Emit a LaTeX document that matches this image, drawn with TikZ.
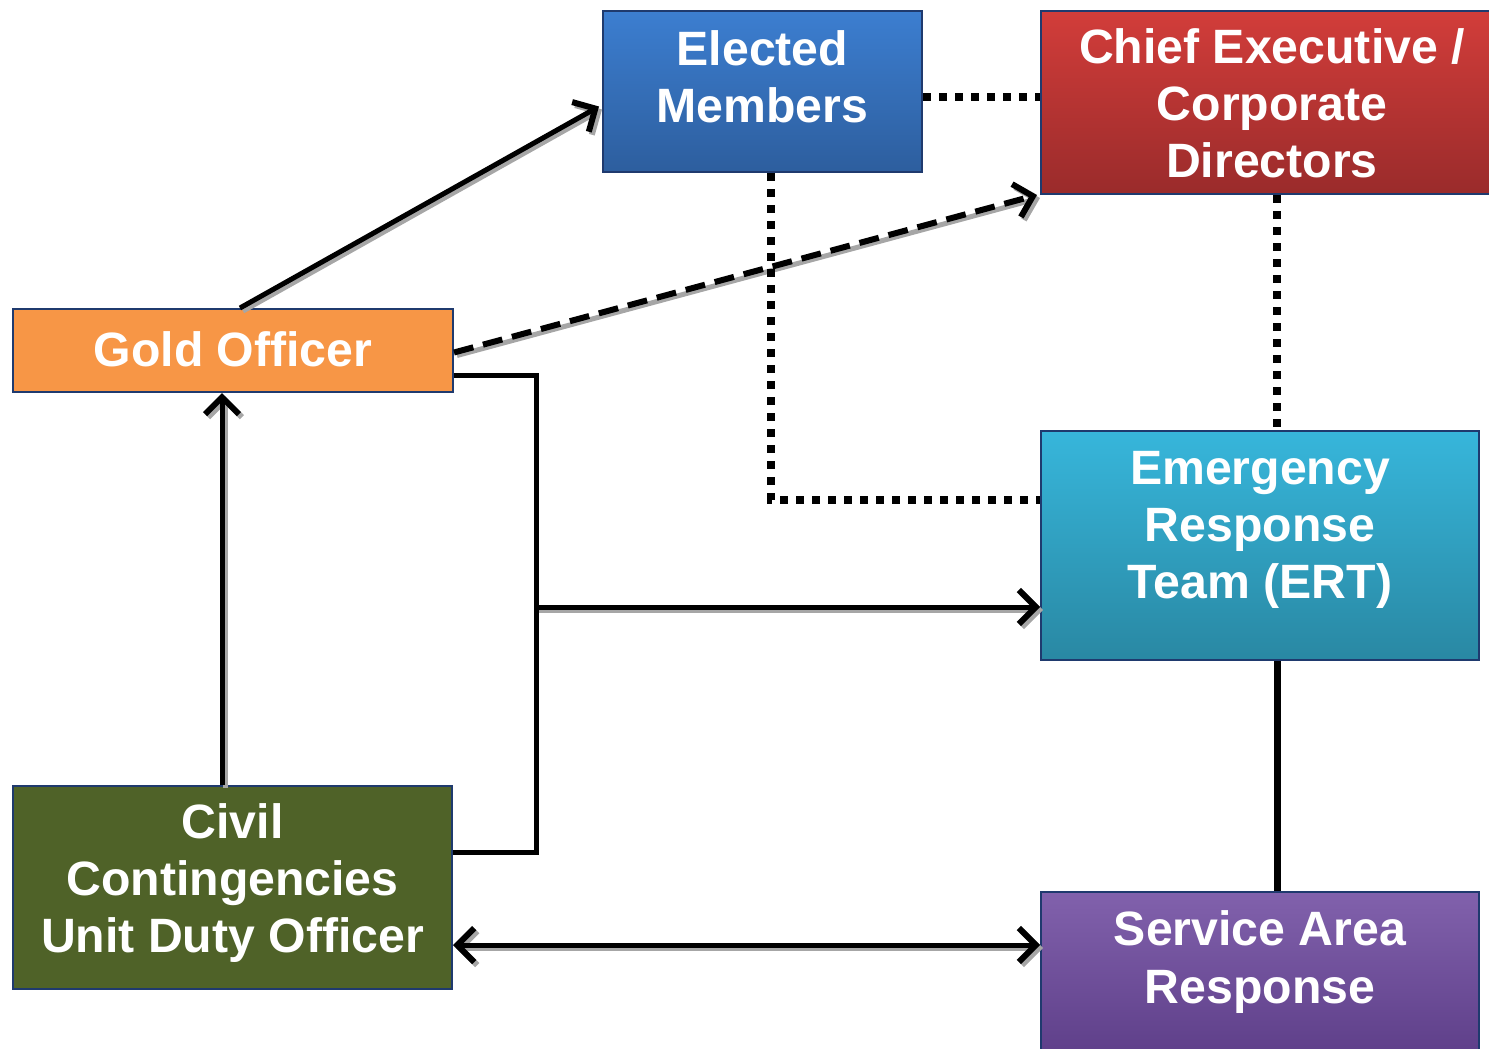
\documentclass[tikz,border=0pt]{standalone}
\usepackage{fontspec}
\setmainfont{Liberation Sans}
\usetikzlibrary{arrows.meta,calc}

\definecolor{boxedge}{HTML}{1F3A6E}
\definecolor{shadowgray}{HTML}{A6A6A6}
\definecolor{bluetop}{HTML}{3C7ED0}
\definecolor{bluebot}{HTML}{2D5E9E}
\definecolor{redtop}{HTML}{D23D3A}
\definecolor{redbot}{HTML}{9A2B2B}
\definecolor{goldfill}{HTML}{F79646}
\definecolor{cyantop}{HTML}{37B6DB}
\definecolor{cyanbot}{HTML}{2988A3}
\definecolor{olivefill}{HTML}{4F6228}
\definecolor{purpletop}{HTML}{8161AC}
\definecolor{purplebot}{HTML}{5B3C86}

\tikzset{
  x=0.5pt, y=-0.5pt,
  box/.style={draw=boxedge, line width=1pt, inner sep=0pt},
  size/.style 2 args={minimum width=#1*0.5pt, minimum height=#2*0.5pt},
  grad/.style 2 args={top color=#1, bottom color=#2},
  lbl/.style={text=white, align=center, inner sep=0pt,
    font=\bfseries\fontsize{24.1}{28.6}\selectfont},
  link/.style={line width=2.5pt, draw=black},
  shadowed/.style={preaction={draw=shadowgray, line width=2.5pt,
    transform canvas={shift={(1.5pt,-1.5pt)}}}},
  barb/.style={Straight Barb[length=8.5pt, width=17pt, line width=3pt]},
  tip/.style={-{Straight Barb[length=8.5pt, width=17pt, line width=3pt]}},
  tips/.style={{Straight Barb[length=8.5pt, width=17pt, line width=3pt]}-{Straight Barb[length=8.5pt, width=17pt, line width=3pt]}},
  dotline/.style={line width=4pt, dash pattern=on 4pt off 4pt, draw=black},
  dashline/.style={line width=3pt, dash pattern=on 10pt off 5pt, draw=black},
}

\begin{document}
\begin{tikzpicture}
\useasboundingbox (0,0) rectangle (1489,1049);

% boxes
\node[box, size={319}{161}, grad={bluetop}{bluebot}] (elected) at (762.5,91.5) {};
\node[box, size={462}{183}, grad={redtop}{redbot}] (chief) at (1272,102.5) {};
\node[box, size={440}{83}, fill=goldfill] (gold) at (233,350.5) {};
\node[box, size={438}{229}, grad={cyantop}{cyanbot}] (ert) at (1260,545.5) {};
\node[box, size={439}{203}, fill=olivefill] (civil) at (232.5,887.5) {};
\node[box, size={438}{178}, grad={purpletop}{purplebot}] (svc) at (1260,981) {};

% labels
\node[lbl] (electedT) at (762.5,77) {Elected\\Members};
\node[lbl] (chiefT) at (1272,103) {Chief Executive /\\Corporate\\Directors};
\node[lbl] (goldT) at (233,349) {Gold Officer};
\node[lbl] (ertT) at (1260,530) {Emergency\\Response\\Team (ERT)};
\node[lbl] (civilT) at (232.5,883) {Civil\\Contingencies\\Unit Duty Officer};
\node[lbl] (svcT) at (1260,962) {Service Area\\Response};

% helper points
\coordinate (trunk) at (536,607);
\coordinate (dropA) at ($(elected.south)+(8.5,0)$);
\coordinate (ertTop) at ($(ert.north)+(17,0)$);
\coordinate (ertBot) at ($(ert.south)+(17,0)$);
\coordinate (riseA) at ($(civil.north)+(-10.5,0)$);

% solid connectors
\draw[link, shadowed, tip] ($(gold.north)+(7,0)$) -- ($(elected.west)+(-3,15)$);
\draw[link, shadowed, tip] (riseA) -- (gold.south -| riseA);
\draw[link] ($(gold.east)+(0,24.5)$) -| (trunk) |- ($(civil.east)+(0,-35.5)$);
\draw[link, shadowed, tip] (trunk) -- (trunk -| ert.west);
\draw[line width=3.5pt] (ertBot) -- (svc.north -| ertBot);
\draw[link, shadowed, tips] ($(civil.east)+(0,57.5)$) -- ($(svc.west)+(0,-36)$);

% dashed and dotted connectors
\draw[dashline, shadowed, tip] ($(gold.east)+(0,2)$) -- ($(chief.south west)+(-3,0)$);
\draw[dotline] ($(elected.east)+(0,5.5)$) -- ($(chief.west)+(0,-5.5)$);
\draw[dotline] (dropA) |- ($(ert.west)+(0,-45.5)$);
\draw[dotline] (chief.south -| ertTop) -- (ertTop);
\end{tikzpicture}
\end{document}
